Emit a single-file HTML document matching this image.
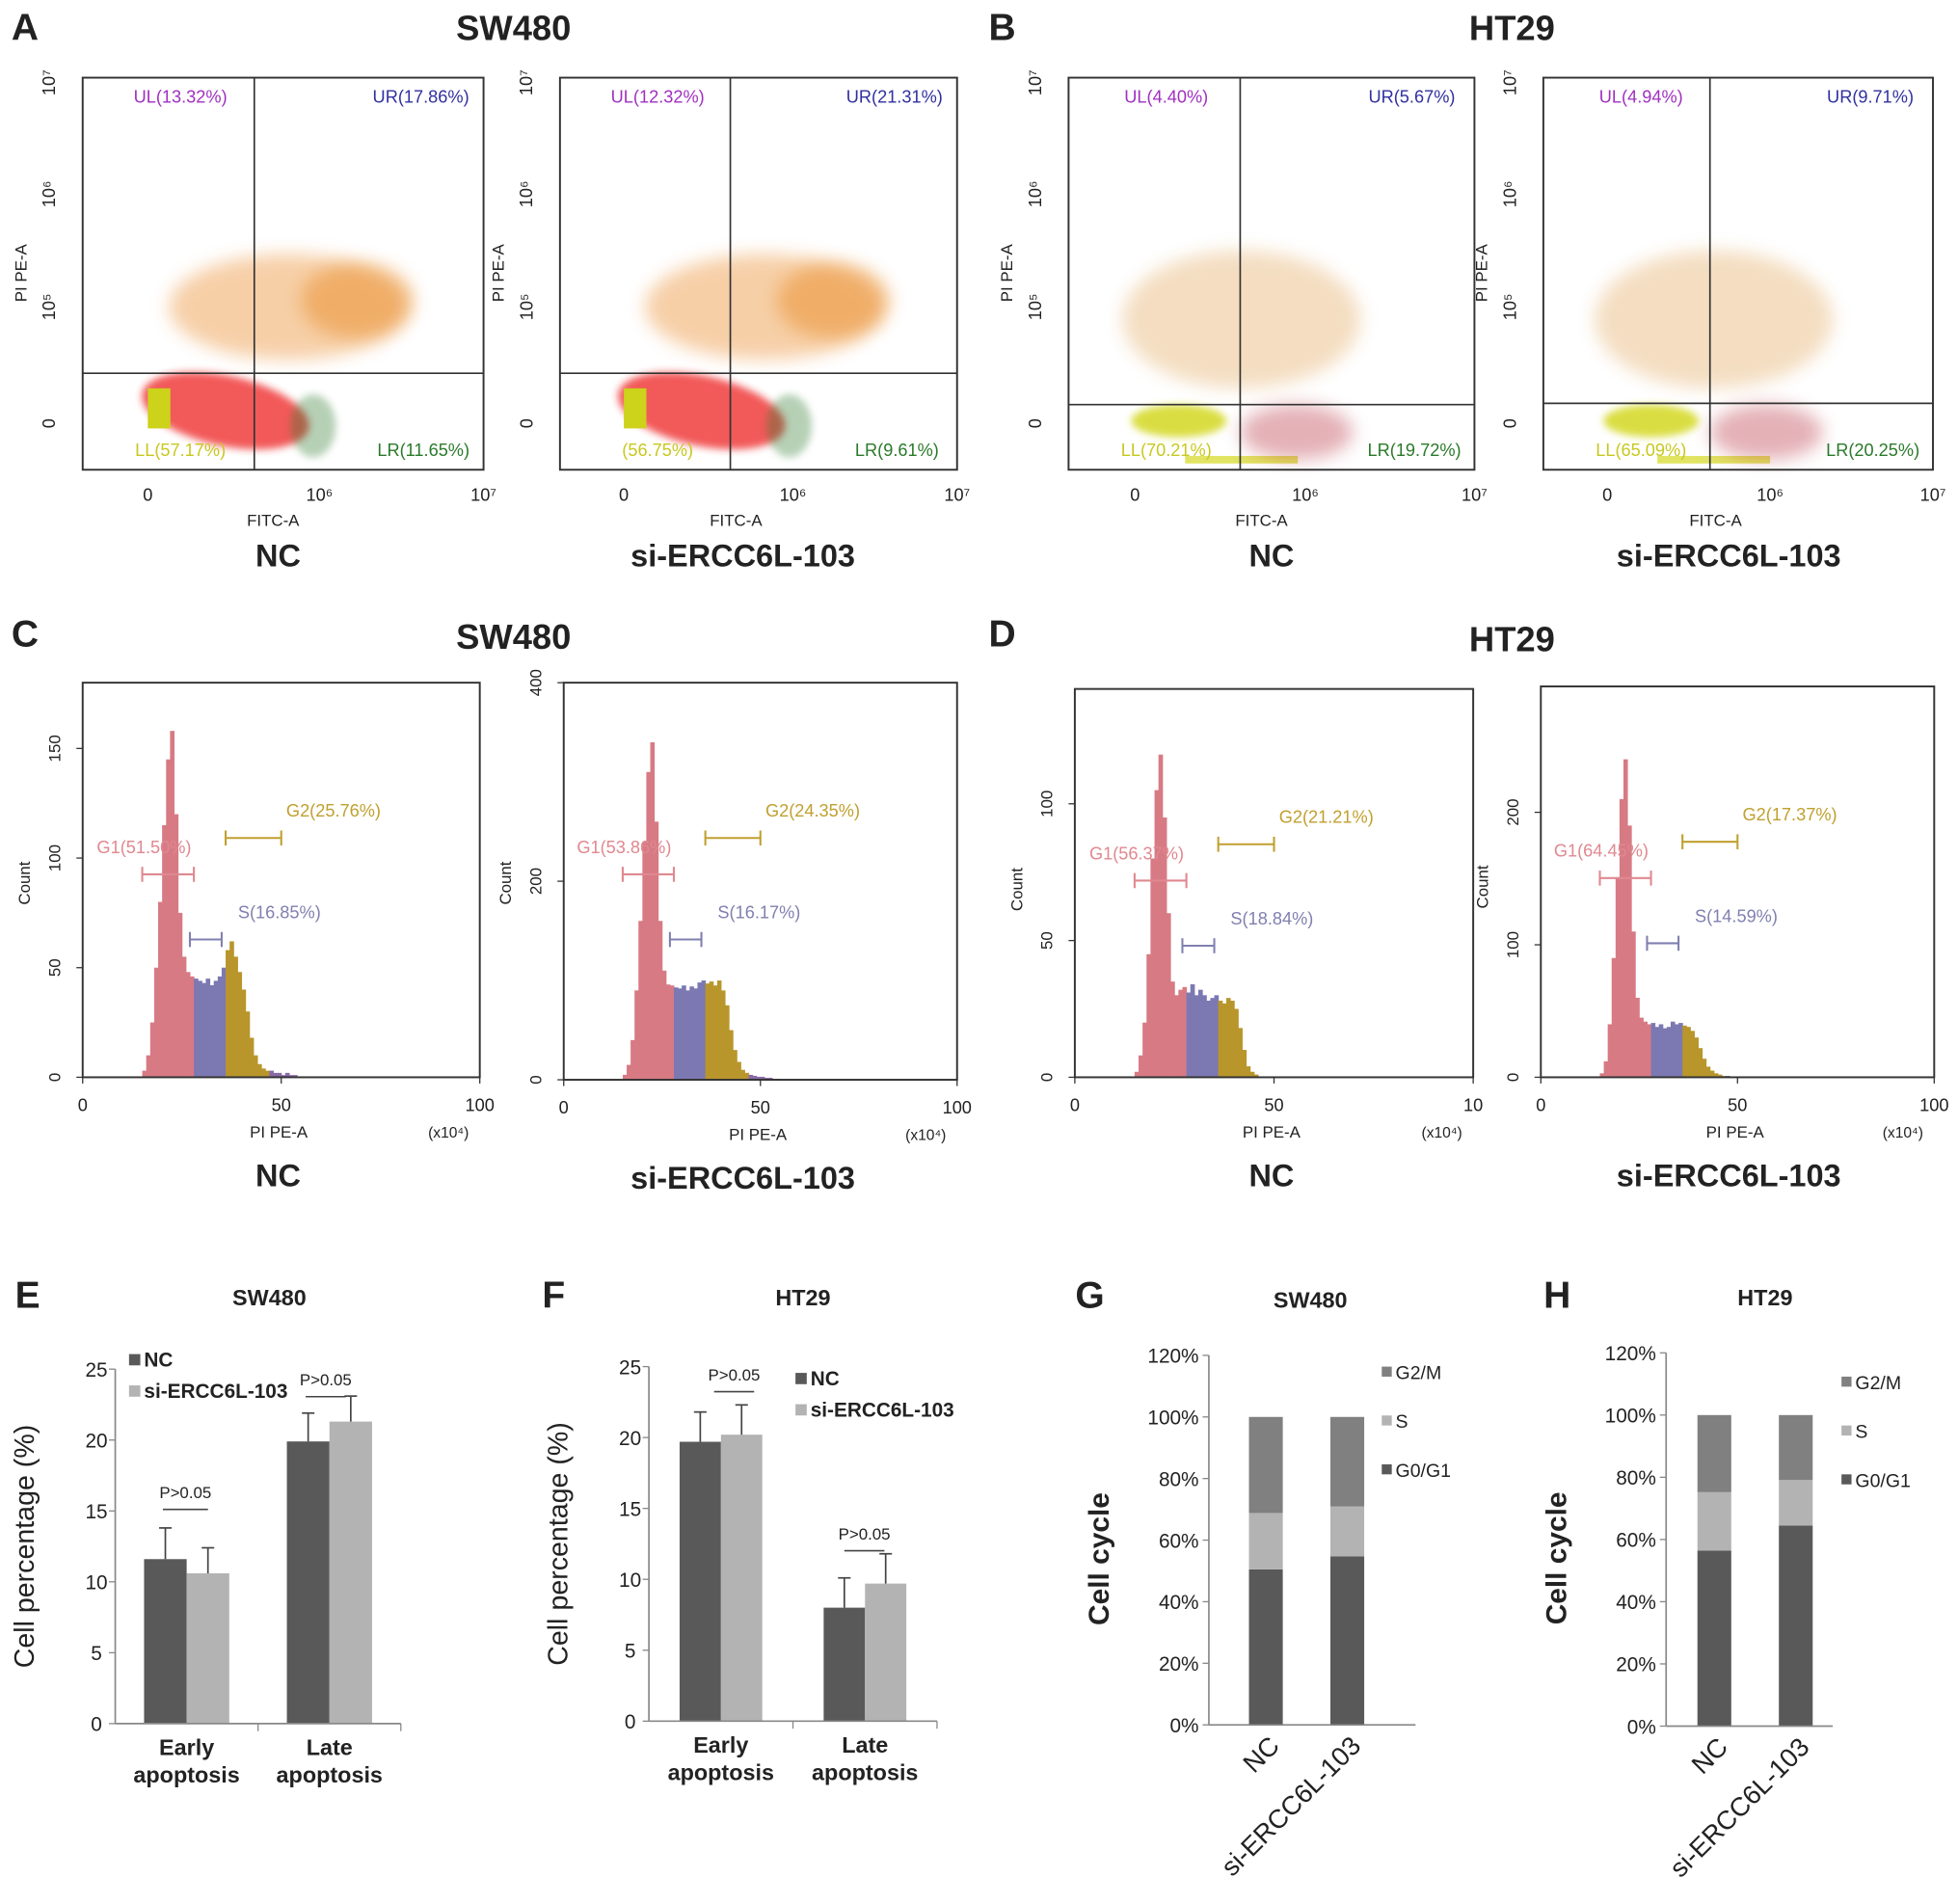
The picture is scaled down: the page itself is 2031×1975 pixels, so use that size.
<!DOCTYPE html>
<html><head><meta charset="utf-8">
<style>
html,body{margin:0;padding:0;background:#fff;}
svg{display:block;font-family:"Liberation Sans",Arial,sans-serif;}
</style></head>
<body>
<svg id="fig" width="2031" height="1975" viewBox="0 0 1563 1520" preserveAspectRatio="none" xmlns="http://www.w3.org/2000/svg">
<defs>
<filter id="blur6" x="-50%" y="-50%" width="200%" height="200%"><feGaussianBlur stdDeviation="7"/></filter>
<filter id="blur3" x="-50%" y="-50%" width="200%" height="200%"><feGaussianBlur stdDeviation="3"/></filter>
</defs>
</svg>
<script>
// ---------- data ----------
const scatterLabels = [
  ['UL(13.32%)','UR(17.86%)','LL(57.17%)','LR(11.65%)'],
  ['UL(12.32%)','UR(21.31%)','(56.75%)','LR(9.61%)'],
  ['UL(4.40%)','UR(5.67%)','LL(70.21%)','LR(19.72%)'],
  ['UL(4.94%)','UR(9.71%)','LL(65.09%)','LR(20.25%)']
];
const histStart = [15,15,15,15];
const histMax = [180,400,142,295];
const histC1 = [3,10,25,50,80,115,145,158,120,75,55,48,46,45,44,43,45,42,44,46,50,58,62,55,48,40,30,18,10,6,4,3,3,2,2,1,2,1,1,0];
const histC2 = [5,15,40,90,160,240,310,340,260,160,110,96,95,93,92,95,90,94,92,98,100,97,99,95,100,90,75,50,30,18,10,7,5,4,3,3,2,2,1,1];
const histD1 = [2,8,20,45,80,105,118,95,60,35,30,32,33,31,34,30,32,30,28,29,30,28,27,29,28,25,18,10,4,2,1,0,0,0,0,0,0,0,0,0];
const histD2 = [3,12,40,90,150,210,240,190,110,60,45,42,40,41,38,40,37,38,42,40,41,39,38,35,30,22,14,8,5,3,2,1,1,0,0,0,0,0,0,0];
const histGates = [['G1(51.50%)','S(16.85%)','G2(25.76%)'],['G1(53.86%)','S(16.17%)','G2(24.35%)'],['G1(56.37%)','S(18.84%)','G2(21.21%)'],['G1(64.45%)','S(14.59%)','G2(17.37%)']];
const histYTicks = [[0,50,100,150],[0,200,400],[0,50,100],[0,100,200]];
const barCats = ['Early apoptosis','Late apoptosis'];
const E_nc = [11.6,19.9], E_si = [10.6,21.3], E_ncErr = [2.2,2.0], E_siErr = [1.8,1.8];
const F_nc = [19.7,8.0], F_si = [20.2,9.7], F_ncErr = [2.1,2.1], F_siErr = [2.1,2.1];
const barTicks = [0,5,10,15,20,25];
const stackCats = ['NC','si-ERCC6L-103'];
const G_g1 = [50.5,54.7], G_s = [18.3,16.2], G_g2 = [31.2,29.1];
const H_g1 = [56.4,64.5], H_s = [18.8,14.6], H_g2 = [24.8,20.9];
const stackTicks = [0,20,40,60,80,100,120];

// ---------- helpers ----------
const svg = document.getElementById('fig');
const NS = 'http://www.w3.org/2000/svg';
function mk(tag, attrs, parent){
  const e = document.createElementNS(NS, tag);
  for (const k in attrs) e.setAttribute(k, attrs[k]);
  (parent||svg).appendChild(e);
  return e;
}
function nm(e, name){
  
  
  return e;
}
function txt(x,y,s,size,opts,name){
  const o = Object.assign({x:x,y:y,'font-size':size,fill:'#222','text-anchor':'middle'}, opts||{});
  const t = mk('text', o);
  t.textContent = s;
  nm(t, name);
  return t;
}
function line(x1,y1,x2,y2,stroke,w,name){
  const l = mk('line',{x1:x1,y1:y1,x2:x2,y2:y2,stroke:stroke,'stroke-width':w});
  nm(l, name);
  return l;
}

// ---------- panel letters & titles ----------
[['A',20,32],['B',800,32],['C',20,516],['D',800,516],['E',22,1044],['F',442,1044],['G',870,1044],['H',1243,1044]].forEach(p=>{
  txt(p[1],p[2],p[0],30,{'font-weight':'bold'},'panel-letter-'+p[0].toLowerCase());
});
[['SW480',410,32],['HT29',1207,32],['SW480',410,518],['HT29',1207,520]].forEach((p,i)=>{
  txt(p[1],p[2],p[0],28,{'font-weight':'bold'},'panel-title-'+i);
});

// ---------- scatter plots ----------
const scat = [
  {x0:66,x1:386,vx:203,hy:298,z:118,m6:255,cap:'NC',cx:222,ht:false},
  {x0:447,x1:764,vx:583,hy:298,z:498,m6:633,cap:'si-ERCC6L-103',cx:593,ht:false},
  {x0:853,x1:1177,vx:990,hy:323,z:906,m6:1042,cap:'NC',cx:1015,ht:true},
  {x0:1232,x1:1543,vx:1365,hy:322,z:1283,m6:1413,cap:'si-ERCC6L-103',cx:1380,ht:true}
];
scat.forEach((s,i)=>{
  const g = nm(mk('g',{}),'scatter-plot-'+i);
  const top=62, bot=375;
  const dx = s.z-118;
  if(!s.ht){
    nm(mk('ellipse',{cx:230+dx,cy:245,rx:95,ry:42,fill:'#f0a860',opacity:0.55,filter:'url(#blur6)'},g),'cluster-late-apoptotic');
    nm(mk('ellipse',{cx:285+dx,cy:240,rx:45,ry:30,fill:'#e8861c',opacity:0.45,filter:'url(#blur6)'},g),'cluster-late-dense');
    nm(mk('ellipse',{cx:180+dx,cy:328,rx:68,ry:28,fill:'#ee2020',opacity:0.75,filter:'url(#blur3)',transform:'rotate(12 '+(180+dx)+' 328)'},g),'cluster-live');
    nm(mk('rect',{x:118+dx,y:310,width:18,height:32,fill:'#cdd21a'},g),'cluster-debris');
    nm(mk('ellipse',{cx:250+dx,cy:340,rx:18,ry:25,fill:'#2f7a2f',opacity:0.35,filter:'url(#blur3)'},g),'cluster-early-apoptotic');
  } else {
    nm(mk('ellipse',{cx:s.z+85,cy:255,rx:95,ry:55,fill:'#e0a050',opacity:0.35,filter:'url(#blur6)'},g),'cluster-late-apoptotic');
    nm(mk('ellipse',{cx:s.z+35,cy:336,rx:38,ry:13,fill:'#d4d820',opacity:0.85,filter:'url(#blur3)'},g),'cluster-live');
    nm(mk('rect',{x:s.z+40,y:364,width:90,height:6,fill:'#d4d820',opacity:0.7},g),'cluster-bottom');
    nm(mk('ellipse',{cx:s.vx+45,cy:345,rx:45,ry:22,fill:'#b22030',opacity:0.35,filter:'url(#blur6)'},g),'cluster-early-apoptotic');
  }
  nm(mk('rect',{x:s.x0,y:top,width:s.x1-s.x0,height:bot-top,fill:'none',stroke:'#333','stroke-width':1.5},g),'plot-frame');
  line(s.vx,top,s.vx,bot,'#333',1.3,'quadrant-vline');
  line(s.x0,s.hy,s.x1,s.hy,'#333',1.3,'quadrant-hline');
  const L = scatterLabels[i];
  txt(s.x0+78,82,L[0],14,{fill:'#a030c0'},'ul-label');
  txt(s.x1-50,82,L[1],14,{fill:'#3030a0'},'ur-label');
  txt(s.x0+78,364,L[2],14,{fill:'#c8c820'},'ll-label');
  txt(s.x1-48,364,L[3],14,{fill:'#2a7a2a'},'lr-label');
  [['10⁷',66],['10⁶',155],['10⁵',245],['0',338]].forEach(t=>{
    txt(s.x0-22,t[1],t[0],14,{transform:'rotate(-90 '+(s.x0-22)+' '+t[1]+')'},'y-tick-label');
  });
  txt(s.x0-45,218,'PI PE-A',13,{transform:'rotate(-90 '+(s.x0-45)+' 218)'},'y-axis-title');
  [['0',s.z],['10⁶',s.m6],['10⁷',s.x1]].forEach(t=>txt(t[1],400,t[0],14,{},'x-tick-label'));
  txt((s.x0+s.x1)/2+(i%2?-18:-8),420,'FITC-A',13,{},'x-axis-title');
  txt(s.cx,452,s.cap,25,{'font-weight':'bold'},'sample-caption');
});

// ---------- histograms ----------
const hists = [
  {x0:66,x1:383,yb:860,yt:545,data:histC1,cap:'NC',cx:222},
  {x0:450,x1:764,yb:862,yt:545,data:histC2,cap:'si-ERCC6L-103',cx:593},
  {x0:858,x1:1176,yb:860,yt:550,data:histD1,cap:'NC',cx:1015},
  {x0:1230,x1:1544,yb:860,yt:548,data:histD2,cap:'si-ERCC6L-103',cx:1380}
];
hists.forEach((h,i)=>{
  const g = nm(mk('g',{}),'histogram-'+i);
  const sx = v => h.x0 + v*(h.x1-h.x0)/100;
  const sy = v => h.yb - v*(h.yb-h.yt)/histMax[i];
  h.data.forEach((c,k)=>{
    const xv = histStart[i]+k;
    const col = xv<28 ? '#d77a84' : xv<36 ? '#7c78b2' : xv<47 ? '#b8962c' : '#8a6aa8';
    const r = mk('rect',{x:sx(xv),y:sy(c),width:sx(xv+1)-sx(xv)+0.4,height:h.yb-sy(c),fill:col},g);
    nm(r,'hist-bin');
  });
  nm(mk('rect',{x:h.x0,y:h.yt,width:h.x1-h.x0,height:h.yb-h.yt,fill:'none',stroke:'#333','stroke-width':1.5},g),'plot-frame');
  histYTicks[i].forEach(t=>{
    const y = sy(t);
    line(h.x0-5,y,h.x0,y,'#333',1,'y-tick');
    txt(h.x0-18,y,String(t),13,{transform:'rotate(-90 '+(h.x0-18)+' '+y+')'},'y-tick-label');
  });
  [0,50,100].forEach(t=>{
    line(sx(t),h.yb,sx(t),h.yb+5,'#333',1,'x-tick');
    txt(sx(t),h.yb+27,(i==2&&t==100)?'10':String(t),14,{},'x-tick-label');
  });
  txt((h.x0+h.x1)/2-2,h.yb+48,'PI PE-A',13,{},'x-axis-title');
  txt(h.x1-25,h.yb+48,'(x10⁴)',12,{},'x-axis-unit');
  txt(h.x0-42,h.yt+160,'Count',13,{transform:'rotate(-90 '+(h.x0-42)+' '+(h.yt+160)+')'},'y-axis-title');
  const gs=[[15,28,153,'#e08890',-2],[27,35,205,'#8080b0',13],[36,50,124,'#c0a030',4]];
  gs.forEach((q,j)=>{
    const y = h.yt+q[2];
    line(sx(q[0]),y,sx(q[1]),y,q[3],1.6,'gate-bar');
    line(sx(q[0]),y-6,sx(q[0]),y+6,q[3],1.6,'gate-end');
    line(sx(q[1]),y-6,sx(q[1]),y+6,q[3],1.6,'gate-end');
    txt(sx(q[1])+q[4],y-17,histGates[i][j],14,{fill:q[3],'text-anchor':j==0?'end':'start'},'gate-label');
  });
  txt(h.cx,h.yb+87,h.cap,25,{'font-weight':'bold'},'sample-caption');
});

// ---------- grouped bar charts E,F ----------
function groupedBar(cfg, nc, si, ncE, siE){
  const g = nm(mk('g',{}),cfg.name);
  const sy = v => cfg.y0 - v*(cfg.y0-cfg.y25)/25;
  line(cfg.ax,cfg.y25,cfg.ax,cfg.y0,'#888',1.3,'y-axis');
  line(cfg.ax,cfg.y0,cfg.axEnd,cfg.y0,'#888',1.3,'x-axis');
  barTicks.forEach(t=>{
    line(cfg.ax-5,sy(t),cfg.ax,sy(t),'#888',1,'y-tick');
    txt(cfg.ax-15,sy(t)+6,String(t),16,{},'y-tick-label');
  });
  const mid = (cfg.axEnd-cfg.ax)/2;
  line(cfg.ax+mid,cfg.y0,cfg.ax+mid,cfg.y0+6,'#888',1,'x-tick');
  line(cfg.axEnd,cfg.y0,cfg.axEnd,cfg.y0+6,'#888',1,'x-tick');
  barCats.forEach((c,k)=>{
    const cx = cfg.ax + mid*(k+0.5);
    [[nc,ncE,'#595959',-cfg.bw],[si,siE,'#b3b3b3',0]].forEach(s=>{
      const x = cx + s[3];
      const r = mk('rect',{x:x,y:sy(s[0][k]),width:cfg.bw,height:cfg.y0-sy(s[0][k]),fill:s[2]},g);
      nm(r,'bar-'+k);
      const ex = x+cfg.bw/2, ey = sy(s[0][k]+s[1][k]);
      line(ex,sy(s[0][k]),ex,ey,'#444',1.3,'error-bar');
      line(ex-5,ey,ex+5,ey,'#444',1.3,'error-cap');
    });
    const parts = c.split(' ');
    txt(cx,cfg.y0+25,parts[0],18,{'font-weight':'bold'},'category-label');
    txt(cx,cfg.y0+47,parts[1],18,{'font-weight':'bold'},'category-label');
  });
  txt(cfg.ax-65,(cfg.y0+cfg.y25)/2,'Cell percentage (%)',22,{transform:'rotate(-90 '+(cfg.ax-65)+' '+((cfg.y0+cfg.y25)/2)+')'},'y-axis-title');
  txt(cfg.tx,cfg.ty,cfg.title,18,{'font-weight':'bold'},'chart-title');
  nm(mk('rect',{x:cfg.lx,y:cfg.ly-10,width:9,height:9,fill:'#595959'},g),'legend-swatch-nc');
  txt(cfg.lx+12,cfg.ly,'NC',16,{'font-weight':'bold','text-anchor':'start'},'legend-entry-nc');
  nm(mk('rect',{x:cfg.lx,y:cfg.ly+15,width:9,height:9,fill:'#b3b3b3'},g),'legend-swatch-si');
  txt(cfg.lx+12,cfg.ly+25,'si-ERCC6L-103',16,{'font-weight':'bold','text-anchor':'start'},'legend-entry-si');
  cfg.p.forEach(p=>{
    txt(p[0],p[1],'P>0.05',13,{},'p-value-label');
    line(p[0]-p[2],p[1]+9,p[0]+p[2],p[1]+9,'#444',1.2,'p-value-line');
  });
}
groupedBar({name:'chart-e',ax:92,axEnd:320,y0:1376,y25:1093,bw:34,tx:215,ty:1042,title:'SW480',lx:103,ly:1091,p:[[148,1196,18],[260,1106,16]]},E_nc,E_si,E_ncErr,E_siErr);
groupedBar({name:'chart-f',ax:518,axEnd:748,y0:1374,y25:1091,bw:33,tx:641,ty:1042,title:'HT29',lx:635,ly:1106,p:[[586,1102,16],[690,1229,16]]},F_nc,F_si,F_ncErr,F_siErr);

// ---------- stacked bar charts G,H ----------
function stacked(cfg, g1, s, g2){
  const g = nm(mk('g',{}),cfg.name);
  const sy = v => cfg.y0 - v*(cfg.y0-cfg.y120)/120;
  line(cfg.ax,cfg.y120,cfg.ax,cfg.y0,'#888',1.3,'y-axis');
  line(cfg.ax,cfg.y0,cfg.axEnd,cfg.y0,'#888',1.3,'x-axis');
  stackTicks.forEach(t=>{
    line(cfg.ax-5,sy(t),cfg.ax,sy(t),'#888',1,'y-tick');
    txt(cfg.ax-8,sy(t)+6,t+'%',16,{'text-anchor':'end'},'y-tick-label');
  });
  stackCats.forEach((c,k)=>{
    const x = cfg.bx[k];
    let base = 0;
    [[g1,'#595959','g0g1'],[s,'#b3b3b3','s'],[g2,'#808080','g2m']].forEach(ser=>{
      const r = mk('rect',{x:x,y:sy(base+ser[0][k]),width:cfg.bw,height:sy(base)-sy(base+ser[0][k]),fill:ser[1]},g);
      nm(r,'bar-'+ser[2]+'-'+k);
      base += ser[0][k];
    });
    const ax = x+cfg.bw/2+12, ay = cfg.y0+18;
    txt(ax,ay,c,21,{'text-anchor':'end',transform:'rotate(-45 '+ax+' '+ay+')'},'category-label');
  });
  txt(cfg.ax-80,(cfg.y0+cfg.y120)/2+15,'Cell cycle',23,{'font-weight':'bold',transform:'rotate(-90 '+(cfg.ax-80)+' '+((cfg.y0+cfg.y120)/2+15)+')'},'y-axis-title');
  txt(cfg.tx,cfg.ty,cfg.title,18,{'font-weight':'bold'},'chart-title');
  [['G2/M','#808080'],['S','#b3b3b3'],['G0/G1','#595959']].forEach((l,j)=>{
    const y = cfg.ly + j*39;
    nm(mk('rect',{x:cfg.lx,y:y-10,width:8,height:8,fill:l[1]},g),'legend-swatch');
    txt(cfg.lx+11,y,l[0],15,{'text-anchor':'start'},'legend-entry');
  });
}
stacked({name:'chart-g',ax:965,axEnd:1130,y0:1377,y120:1082,bx:[997,1062],bw:27,tx:1046,ty:1044,title:'SW480',lx:1103,ly:1101},G_g1,G_s,G_g2);
stacked({name:'chart-h',ax:1330,axEnd:1463,y0:1378,y120:1080,bx:[1355,1420],bw:27,tx:1409,ty:1042,title:'HT29',lx:1470,ly:1109},H_g1,H_s,H_g2);
</script>
</body></html>
